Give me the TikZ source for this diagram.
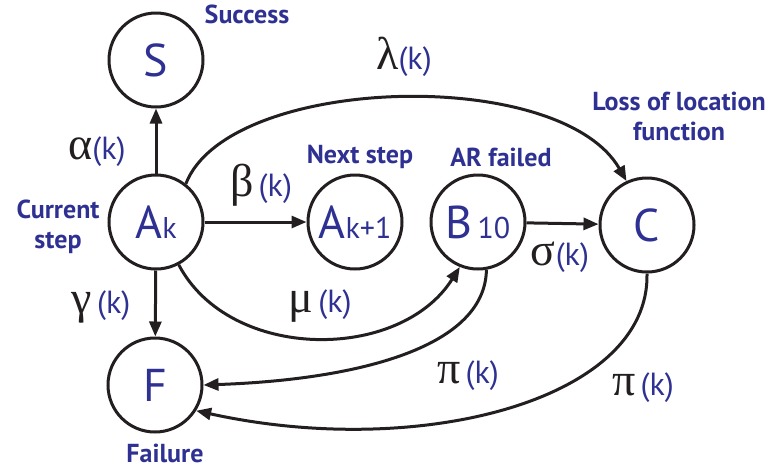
\documentclass[tikz,border=0pt]{standalone}
\usepackage{fontspec}
\setmainfont{PT Sans}
\newfontfamily\greekfont{Liberation Serif}
\usetikzlibrary{arrows.meta}
\definecolor{cnavy}{HTML}{2E3192}
\definecolor{cink}{HTML}{231F20}
\tikzset{
  every picture/.style={line width=3pt},
  state/.style={circle, draw=cink, minimum size=94pt, inner sep=0pt, text=cnavy, font=\fontsize{46}{46}\selectfont},
  arrow/.style={draw=cink, -{Triangle[length=15pt, width=12pt]}},
  rate/.style={text=cnavy, font=\fontsize{32}{32}\selectfont, inner sep=0pt},
  tag/.style={text=cnavy, font=\bfseries\fontsize{26}{30}\selectfont, align=center, inner sep=0pt},
}
\newcommand{\gk}[1]{{\color{cink}\greekfont\fontsize{46}{46}\selectfont #1}}
\newcommand{\lowtxt}[1]{{\fontsize{30}{30}\selectfont #1}}

\begin{document}
\begin{tikzpicture}[x=1pt, y=-1pt]
  \useasboundingbox (0,0) rectangle (778,472);
  % states (pixel grid, y down)
  \node[state] (S) at (156,60) {S};
  \node[state] (Ak) at (156,222) {A\lowtxt{k}};
  \node[state] (Ak1) at (355,222) {A\lowtxt{k+1}};
  \node[state] (B) at (478,222) {B\lowtxt{\,10}};
  \node[state] (C) at (647,225) {C};
  \node[state] (F) at (155,385) {F};
  % what the states mean
  \node[tag] (tS) at (247,14) {Success};
  \node[tag] (tAk) at (58,227) {Current\\step};
  \node[tag] (tAk1) at (360,157) {Next step};
  \node[tag] (tB) at (501,157) {AR failed};
  \node[tag] (tC) at (679,116) {Loss of location\\function};
  \node[tag] (tF) at (165,453) {Failure};
  % transitions
  \draw[arrow] (Ak) -- (S);
  \draw[arrow] (Ak) -- (Ak1);
  \draw[arrow] (Ak) -- (F);
  \draw[arrow] (B) -- (C);
  \draw[arrow] (Ak.52) .. controls (228,75) and (560,65) .. (C.115);
  \draw[arrow] (Ak.-62) .. controls (230,362) and (400,362) .. (B.-112);
  \draw[arrow] (B.-80) .. controls (485,350) and (350,380) .. (F.east);
  \draw[arrow] (C.-90) .. controls (650,400) and (420,460) .. (F.-32);
  % rates
  \node[rate] (ra) at (97,152) {\gk{α}(k)};
  \node[rate] (rb) at (261,185) {\gk{β}\,(k)};
  \node[rate] (rl) at (404,57) {\gk{λ}(k)};
  \node[rate] (rg) at (101,307) {\gk{γ}\,(k)};
  \node[rate] (rm) at (320,306) {\gk{μ}\,(k)};
  \node[rate] (rs) at (560,257) {\gk{σ}(k)};
  \node[rate] (rp) at (468,376) {\gk{π}\,(k)};
  \node[rate] (rq) at (643,388) {\gk{π}\,(k)};
\end{tikzpicture}
\end{document}
